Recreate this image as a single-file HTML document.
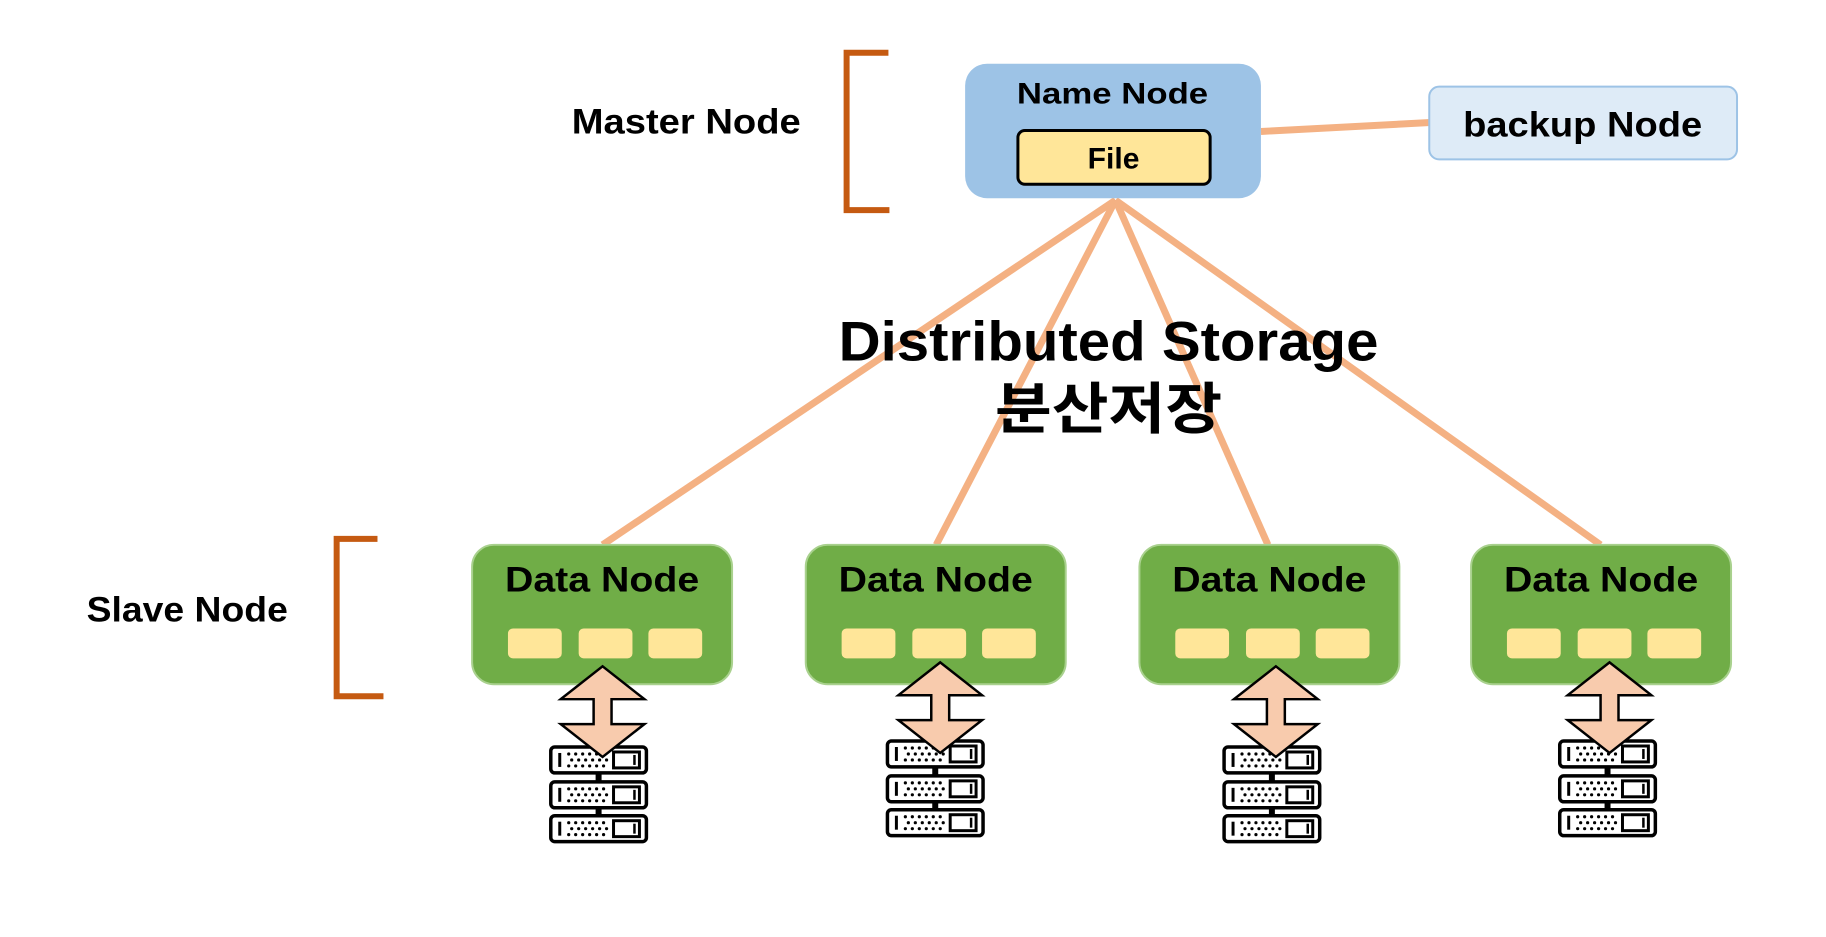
<!DOCTYPE html>
<html><head><meta charset="utf-8"><style>
html,body{margin:0;padding:0;background:#fff;}
svg{display:block;}
text{font-family:"Liberation Sans","Noto Sans CJK KR",sans-serif;font-weight:bold;fill:#000;}
</style></head><body>
<svg width="1826" height="937" viewBox="0 0 1826 937" xmlns="http://www.w3.org/2000/svg">
<defs>
<g id="unit">
<rect x="0" y="0" width="96" height="26" rx="4" fill="#fff" stroke="#000" stroke-width="3.5"/>
<line x1="9" y1="6" x2="9" y2="20" stroke="#000" stroke-width="3"/>
<g fill="#000">
<circle cx="18" cy="7" r="1.6"/><circle cx="25" cy="7" r="1.6"/><circle cx="32" cy="7" r="1.6"/><circle cx="39" cy="7" r="1.6"/><circle cx="46" cy="7" r="1.6"/><circle cx="53" cy="7" r="1.6"/>
<circle cx="21" cy="13" r="1.6"/><circle cx="28" cy="13" r="1.6"/><circle cx="35" cy="13" r="1.6"/><circle cx="42" cy="13" r="1.6"/><circle cx="49" cy="13" r="1.6"/><circle cx="56" cy="13" r="1.6"/>
<circle cx="18" cy="19" r="1.6"/><circle cx="25" cy="19" r="1.6"/><circle cx="32" cy="19" r="1.6"/><circle cx="39" cy="19" r="1.6"/><circle cx="46" cy="19" r="1.6"/><circle cx="53" cy="19" r="1.6"/>
</g>
<rect x="63" y="5" width="26" height="16" fill="#fff" stroke="#000" stroke-width="3"/>
<line x1="84" y1="8" x2="84" y2="18" stroke="#000" stroke-width="2.5"/>
</g>
<g id="server">
<rect x="45" y="24" width="6" height="12" fill="#000"/>
<rect x="45" y="59" width="6" height="12" fill="#000"/>
<use href="#unit" x="0" y="0"/>
<use href="#unit" x="0" y="35"/>
<use href="#unit" x="0" y="69"/>
</g>
<g id="dn">
<rect x="0" y="0" width="261" height="140" rx="22" fill="#70ad47" stroke="#a9d18e" stroke-width="2"/>
<text x="130.5" y="47" font-size="35" text-anchor="middle" textLength="195" lengthAdjust="spacingAndGlyphs">Data Node</text>
<rect x="36" y="84" width="54" height="30" rx="5" fill="#ffe699"/>
<rect x="107" y="84" width="54" height="30" rx="5" fill="#ffe699"/>
<rect x="177" y="84" width="54" height="30" rx="5" fill="#ffe699"/>
</g>
<g id="arr">
<polygon points="0,0 42,33 9,33 9,58 42,58 0,91 -42,58 -9,58 -9,33 -42,33" fill="#f8cbad" stroke="#000" stroke-width="2.5" stroke-linejoin="miter"/>
</g>
</defs>
<g transform="scale(0.996)">
<g stroke="#f4b183" stroke-width="7" stroke-linecap="butt">
<line x1="1266" y1="132" x2="1436" y2="123"/>
<line x1="1120" y1="201" x2="605" y2="547"/>
<line x1="1120" y1="201" x2="940" y2="547"/>
<line x1="1120" y1="201" x2="1273" y2="547"/>
<line x1="1120" y1="201" x2="1607" y2="547"/>
</g>
<path d="M892,53 H850 V211 H893" fill="none" stroke="#c55a11" stroke-width="6"/>
<path d="M379,541 H338 V699 H385" fill="none" stroke="#c55a11" stroke-width="6"/>
<text x="689" y="134" font-size="35" text-anchor="middle" textLength="230" lengthAdjust="spacingAndGlyphs">Master Node</text>
<text x="188" y="624" font-size="35" text-anchor="middle" textLength="202" lengthAdjust="spacingAndGlyphs">Slave Node</text>
<rect x="969" y="64" width="297" height="135" rx="22" fill="#9dc3e6"/>
<text x="1117" y="104" font-size="30" text-anchor="middle" textLength="192" lengthAdjust="spacingAndGlyphs">Name Node</text>
<rect x="1022" y="131" width="193" height="54" rx="7" fill="#ffe699" stroke="#000" stroke-width="3"/>
<text x="1118" y="169" font-size="30" text-anchor="middle" textLength="52" lengthAdjust="spacingAndGlyphs">File</text>
<rect x="1435" y="87" width="309" height="73" rx="10" fill="#deebf7" stroke="#9dc3e6" stroke-width="2"/>
<text x="1589" y="137" font-size="35" text-anchor="middle" textLength="240" lengthAdjust="spacingAndGlyphs">backup Node</text>
<text x="1113" y="362" font-size="56" text-anchor="middle" textLength="542" lengthAdjust="spacingAndGlyphs">Distributed Storage</text>
<text x="1113" y="430" font-size="56" text-anchor="middle" textLength="228" lengthAdjust="spacingAndGlyphs">분산저장</text>
<use href="#dn" x="474" y="547"/>
<use href="#dn" x="809" y="547"/>
<use href="#dn" x="1144" y="547"/>
<use href="#dn" x="1477" y="547"/>
<use href="#server" x="553" y="750"/>
<use href="#server" x="891" y="744"/>
<use href="#server" x="1229" y="750"/>
<use href="#server" x="1566" y="744"/>
<use href="#arr" x="605" y="669"/>
<use href="#arr" x="944" y="665"/>
<use href="#arr" x="1281" y="669"/>
<use href="#arr" x="1616" y="665"/>
</g>
</svg>
</body></html>
